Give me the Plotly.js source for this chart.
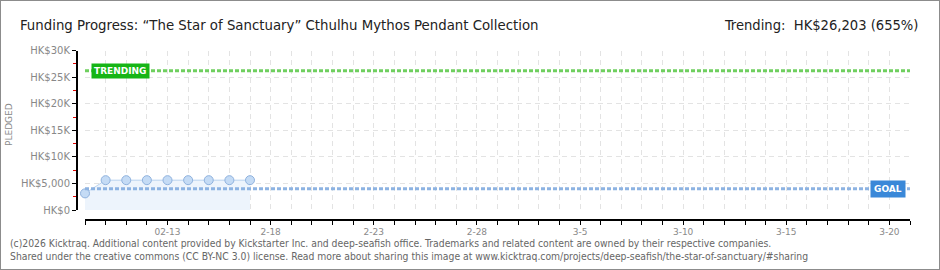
<!DOCTYPE html>
<html><head><meta charset="utf-8">
<script src="https://cdn.plot.ly/plotly-3.0.1.min.js"></script>
<style>html,body{margin:0;padding:0;background:#fff}#chart{width:940px;height:270px}</style>
</head><body><div id="chart"></div>
<script>
// ---- data ----
const dates = ['2026-02-09','2026-02-10','2026-02-11','2026-02-12','2026-02-13','2026-02-14','2026-02-15','2026-02-16','2026-02-17'];
const pledged = [3130, 5620, 5620, 5620, 5620, 5620, 5620, 5620, 5620];
const goal = 4000;
const trending = 26203;
const trendingPct = 655;
const rangeStart = '2026-02-09';
const rangeEnd = '2026-03-21';
const xTickVals = ['2026-02-13','2026-02-18','2026-02-23','2026-02-28','2026-03-05','2026-03-10','2026-03-15','2026-03-20'];
const xTickText = ['02-13','2-18','2-23','2-28','3-5','3-10','3-15','3-20'];
const yTickVals = [0, 5000, 10000, 15000, 20000, 25000, 30000];
const yTickText = ['HK$0','HK$5,000','HK$10K','HK$15K','HK$20K','HK$25K','HK$30K'];
const titleText = 'Funding Progress: \u201CThe Star of Sanctuary\u201D Cthulhu Mythos Pendant Collection';
const footer1 = '(c)2026 Kicktraq. Additional content provided by Kickstarter Inc. and deep-seafish office. Trademarks and related content are owned by their respective companies.';
const footer2 = 'Shared under the creative commons (CC BY-NC 3.0) license. Read more about sharing this image at www.kicktraq.com/projects/deep-seafish/the-star-of-sanctuary/#sharing';

// ---- helpers (pixel -> paper) ----
const W = 940, H = 270;
const px = x => x / W;
const py = y => 1 - y / H;

const gridCol = '#e3e3e3';
const DAY = 86400000;
const headFont = 'DejaVu Sans Condensed, DejaVu Sans, sans-serif';

const traces = [
  {
    x: dates, y: pledged, type: 'scatter', mode: 'lines+markers',
    fill: 'tozeroy', fillcolor: '#edf4fc', cliponaxis: false,
    line: {color: '#b8d2ef', width: 1},
    marker: {size: 9, color: '#c4dbf5', line: {color: '#8fb2de', width: 1}},
    hoverinfo: 'skip'
  },
  {
    x: [rangeStart, rangeEnd], y: [goal, goal], type: 'scatter', mode: 'lines',
    line: {color: '#8db3e2', width: 3, dash: '4px,2px'}, hoverinfo: 'skip'
  },
  {
    x: [rangeStart, rangeEnd], y: [trending, trending], type: 'scatter', mode: 'lines',
    line: {color: '#6fcf5f', width: 3, dash: '4px,2px'}, hoverinfo: 'skip'
  }
];

const tickFont = {family: 'DejaVu Sans', size: 9, color: '#8a8a8a'};

const layout = {
  width: W, height: H,
  margin: {l: 0, r: 0, t: 0, b: 0, pad: 0},
  paper_bgcolor: '#fff', plot_bgcolor: '#fff',
  showlegend: false,
  xaxis: {
    type: 'date', range: [rangeStart, rangeEnd], autorange: false,
    domain: [px(85), px(910)], anchor: 'free', position: py(219),
    showline: true, linecolor: '#000', linewidth: 1.5,
    ticks: 'outside', ticklen: 4, tickcolor: '#000', tickwidth: 1,
    tickmode: 'array', tickvals: xTickVals, ticktext: xTickText,
    tickfont: tickFont,
    showgrid: true, gridcolor: gridCol, griddash: '5px,4px', gridwidth: 1,
    minor: {dtick: DAY, tick0: rangeStart, ticks: 'outside', ticklen: 4, tickcolor: '#000', tickwidth: 1,
            showgrid: true, gridcolor: gridCol, griddash: '5px,4px', gridwidth: 1},
    zeroline: false, automargin: false, fixedrange: true
  },
  yaxis: {
    range: [0, 30000], autorange: false,
    domain: [py(210), py(50.7)], anchor: 'free', position: px(76),
    showline: true, linecolor: '#000', linewidth: 1.5,
    ticks: 'outside', ticklen: 4, tickcolor: '#000', tickwidth: 1,
    tickmode: 'array', tickvals: yTickVals, ticktext: yTickText,
    tickfont: {family: 'DejaVu Sans', size: 10, color: '#888'},
    showgrid: true, gridcolor: gridCol, griddash: '5px,4px', gridwidth: 1,
    minor: {dtick: 2500, tick0: 0, ticks: 'outside', ticklen: 3, tickcolor: '#e00000', showgrid: false},
    zeroline: false, automargin: false, fixedrange: true
  },
  shapes: [
    {type: 'rect', xref: 'paper', yref: 'paper', x0: 0, x1: 1, y0: 0, y1: 1,
     line: {color: '#8c8c8c', width: 2}, fillcolor: 'rgba(0,0,0,0)', layer: 'above'}
  ],
  annotations: [
    {text: titleText, xref: 'paper', yref: 'paper', x: px(18), y: py(24), xanchor: 'left', yanchor: 'middle',
     showarrow: false, font: {family: headFont, size: 14.8, color: '#222'}},
    {text: 'Trending:  HK$' + trending.toLocaleString('en-US') + ' (' + trendingPct + '%)', xref: 'paper', yref: 'paper',
     x: px(920), y: py(24), xanchor: 'right', yanchor: 'middle', showarrow: false,
     font: {family: headFont, size: 14.6, color: '#222'}},
    {text: 'PLEDGED', xref: 'paper', yref: 'paper', x: px(9), y: py(125), textangle: -90,
     xanchor: 'center', yanchor: 'middle', showarrow: false,
     font: {family: 'DejaVu Sans', size: 9, color: '#8a8a8a'}},
    {text: '<b>TRENDING</b>', xref: 'paper', yref: 'y', x: px(121), y: trending, xanchor: 'center', yanchor: 'middle',
     showarrow: false, bgcolor: '#16b516', borderpad: 2,
     font: {family: 'DejaVu Sans', size: 9, color: '#fff'}},
    {text: '<b>GOAL</b>', xref: 'paper', yref: 'y', x: px(888), y: goal, xanchor: 'center', yanchor: 'middle',
     showarrow: false, bgcolor: '#3a88d8', borderpad: 3,
     font: {family: 'DejaVu Sans', size: 9, color: '#fff'}},
    {text: footer1, xref: 'paper', yref: 'paper', x: px(8), y: py(243), xanchor: 'left', yanchor: 'middle',
     showarrow: false, font: {family: 'DejaVu Sans Condensed, DejaVu Sans', size: 10.3, color: '#666'}},
    {text: footer2, xref: 'paper', yref: 'paper', x: px(8), y: py(256), xanchor: 'left', yanchor: 'middle',
     showarrow: false, font: {family: 'DejaVu Sans Condensed, DejaVu Sans', size: 10.3, color: '#666'}}
  ]
};

Plotly.newPlot('chart', traces, layout, {staticPlot: true, displayModeBar: false});
</script>
</body></html>
